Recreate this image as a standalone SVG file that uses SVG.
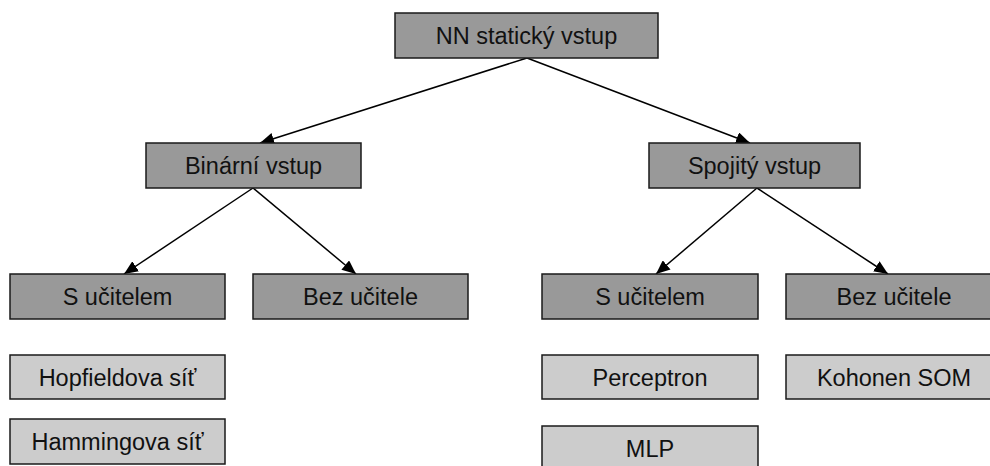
<svg xmlns="http://www.w3.org/2000/svg" width="990" height="466" viewBox="0 0 990 466">
  <defs>
    <marker id="arrow" viewBox="0 0 14 12" refX="14" refY="6" markerWidth="14" markerHeight="12" markerUnits="userSpaceOnUse" orient="auto">
      <path d="M0,0 L14,6 L0,12 Z" fill="#000"/>
    </marker>
    <style>
      .cat rect { fill: #999999; stroke: #1a1a1a; stroke-width: 1.5; }
      .leaf rect { fill: #cccccc; stroke: #1a1a1a; stroke-width: 1.5; }
      text { font-family: "Liberation Sans", Arial, sans-serif; font-size: 23.5px; fill: #111; text-anchor: middle; }
      .edge { stroke: #000; stroke-width: 1.5; fill: none; marker-end: url(#arrow); }
    </style>
  </defs>
  <rect width="990" height="466" fill="#fff"/>

  <g id="connectors">
    <line class="edge" x1="527" y1="58" x2="260" y2="143"/>
    <line class="edge" x1="527" y1="58" x2="750" y2="143"/>
    <line class="edge" x1="253" y1="188" x2="124" y2="274"/>
    <line class="edge" x1="253" y1="188" x2="356" y2="274"/>
    <line class="edge" x1="757" y1="188" x2="656" y2="274"/>
    <line class="edge" x1="757" y1="188" x2="888" y2="274"/>
  </g>

  <g id="root" class="cat">
    <rect x="395" y="13" width="263" height="45"/>
    <text x="526.5" y="44">NN statický vstup</text>
  </g>
  <g id="binary" class="cat">
    <rect x="146" y="143" width="215" height="45"/>
    <text x="253.5" y="174">Binární vstup</text>
  </g>
  <g id="continuous" class="cat">
    <rect x="649" y="143" width="211" height="45"/>
    <text x="754.5" y="174">Spojitý vstup</text>
  </g>
  <g id="bin-supervised" class="cat">
    <rect x="10" y="274" width="215" height="45"/>
    <text x="117.5" y="305">S učitelem</text>
  </g>
  <g id="bin-unsupervised" class="cat">
    <rect x="253" y="274" width="215" height="45"/>
    <text x="360.5" y="305">Bez učitele</text>
  </g>
  <g id="cont-supervised" class="cat">
    <rect x="542" y="274" width="216" height="45"/>
    <text x="650" y="305">S učitelem</text>
  </g>
  <g id="cont-unsupervised" class="cat">
    <rect x="786" y="274" width="216" height="45"/>
    <text x="894" y="305">Bez učitele</text>
  </g>
  <g id="hopfield" class="leaf">
    <rect x="10" y="355" width="215" height="44"/>
    <text x="117.5" y="385.5">Hopfieldova síť</text>
  </g>
  <g id="hamming" class="leaf">
    <rect x="10" y="419" width="215" height="45"/>
    <text x="117.5" y="450">Hammingova síť</text>
  </g>
  <g id="perceptron" class="leaf">
    <rect x="542" y="355" width="216" height="44"/>
    <text x="650" y="385.5">Perceptron</text>
  </g>
  <g id="kohonen" class="leaf">
    <rect x="786" y="355" width="216" height="44"/>
    <text x="894" y="385.5">Kohonen SOM</text>
  </g>
  <g id="mlp" class="leaf">
    <rect x="542" y="426" width="216" height="45"/>
    <text x="650" y="457">MLP</text>
  </g>
</svg>
